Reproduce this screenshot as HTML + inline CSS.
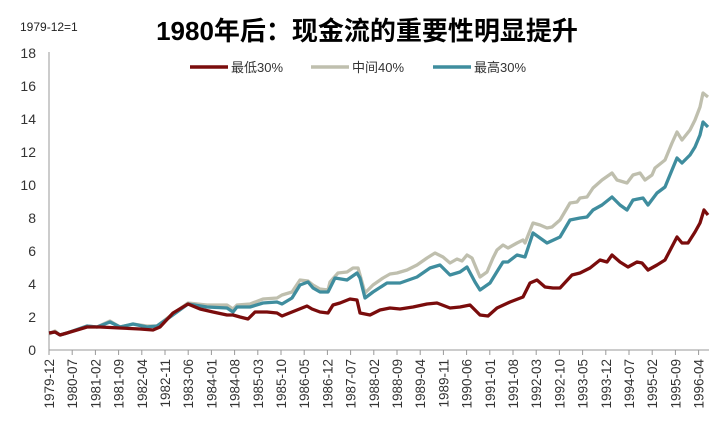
<!DOCTYPE html>
<html><head><meta charset="utf-8"><style>
body{margin:0;background:#fff;}
svg{display:block;font-family:"Liberation Sans","Noto Sans CJK SC",sans-serif;}
</style></head><body>
<svg width="715" height="421" viewBox="0 0 715 421">
<text x="20" y="31" font-size="12" fill="#222">1979-12=1</text>
<text x="367" y="40" font-size="26" font-weight="bold" text-anchor="middle" fill="#000">1980年后：现金流的重要性明显提升</text>
<g font-size="13" fill="#333">
<line x1="190" y1="67" x2="228" y2="67" stroke="#7a0c0c" stroke-width="3.5"/><text x="231" y="72">最低30%</text>
<line x1="311" y1="67" x2="349" y2="67" stroke="#bfbfae" stroke-width="3.5"/><text x="352" y="72">中间40%</text>
<line x1="433" y1="67" x2="471" y2="67" stroke="#3f8d9e" stroke-width="3.5"/><text x="474" y="72">最高30%</text>
</g>
<g font-size="14" fill="#333" text-anchor="end">
<text x="36" y="355">0</text><text x="36" y="322">2</text><text x="36" y="289">4</text><text x="36" y="256">6</text><text x="36" y="223">8</text><text x="36" y="190">10</text><text x="36" y="157">12</text><text x="36" y="124">14</text><text x="36" y="91">16</text><text x="36" y="58">18</text>
</g>
<line x1="49" y1="52" x2="49" y2="350" stroke="#999" stroke-width="1"/>
<line x1="49" y1="350" x2="709" y2="350" stroke="#999" stroke-width="1"/>
<g id="ticks" stroke="#999"></g>
<g id="labs" font-size="13.5" fill="#333"></g>
<g fill="none" stroke-width="3.3" stroke-linejoin="round">
<polyline stroke="#bfbfae" points="49,334 55,331 60,335 67,333 87,326 97,327 110,321 120,327 133,324 147,326 157,326 170,316 188,303 207,305 227,305 233,309 237,305 250,304 263,299 277,298 282,295 292,292 300,280 308,281 313,285 320,289 328,290 330,282 338,273 347,272 353,268 358,268 360,275 365,293 373,285 383,278 390,274 397,273 407,270 417,265 427,258 435,253 443,257 450,263 457,259 462,261 467,255 472,258 477,270 480,277 487,272 493,258 497,250 503,245 508,248 517,243 523,240 525,243 533,223 540,225 547,228 552,227 560,220 570,203 577,202 580,198 587,197 593,188 602,180 612,173 617,180 627,183 633,175 640,173 645,180 652,175 655,168 665,160 672,143 677,132 682,140 690,130 695,120 700,107 703,93 708,97"/>
<polyline stroke="#3f8d9e" points="49,333 55,332 60,335 67,333 87,326 97,327 110,322 120,327 133,324 147,327 157,326 170,317 188,304 207,307 227,308 233,312 237,307 250,307 263,303 277,302 282,304 292,298 300,285 308,282 313,288 320,292 328,292 335,278 347,280 357,273 360,278 365,298 373,292 387,283 400,283 417,277 430,268 440,265 450,275 460,272 467,267 475,282 480,290 490,283 498,270 503,262 508,262 517,255 525,257 533,233 547,243 560,237 570,220 580,218 587,217 593,210 602,205 612,197 620,205 627,210 633,200 643,198 648,205 657,193 665,187 672,170 677,158 682,163 690,155 695,147 700,135 703,122 708,127"/>
<polyline stroke="#7a0c0c" points="49,333 55,332 60,335 67,333 87,327 100,327 120,328 140,329 153,330 160,327 173,313 188,304 200,309 213,312 227,315 233,315 240,317 248,319 255,312 267,312 277,313 282,316 292,312 302,308 307,306 312,309 320,312 328,313 333,305 340,303 350,299 357,300 360,313 370,315 380,310 390,308 400,309 413,307 427,304 437,303 450,308 460,307 470,305 480,315 488,316 497,308 510,302 523,297 530,283 537,280 545,287 553,288 560,288 572,275 580,273 590,268 600,260 607,262 612,255 620,262 628,267 637,262 642,263 648,270 657,265 665,260 677,237 682,243 688,243 695,232 700,223 704,210 708,215"/>
</g>
<script>
var names=["1979-12","1980-07","1981-02","1981-09","1982-04","1982-11","1983-06","1984-01","1984-08","1985-03","1985-10","1986-05","1986-12","1987-07","1988-02","1988-09","1989-04","1989-11","1990-06","1991-01","1991-08","1992-03","1992-10","1993-05","1993-12","1994-07","1995-02","1995-09","1996-04"];
var t=document.getElementById("ticks"),l=document.getElementById("labs"),ns="http://www.w3.org/2000/svg";
names.forEach(function(n,i){var x=49+i*23.2;
var ln=document.createElementNS(ns,"line");ln.setAttribute("x1",x);ln.setAttribute("x2",x);ln.setAttribute("y1",350);ln.setAttribute("y2",355);t.appendChild(ln);
var tx=document.createElementNS(ns,"text");tx.setAttribute("transform","translate("+(x+5)+",359) rotate(-90)");tx.setAttribute("text-anchor","end");tx.textContent=n;l.appendChild(tx);});
</script>
</svg>
</body></html>
